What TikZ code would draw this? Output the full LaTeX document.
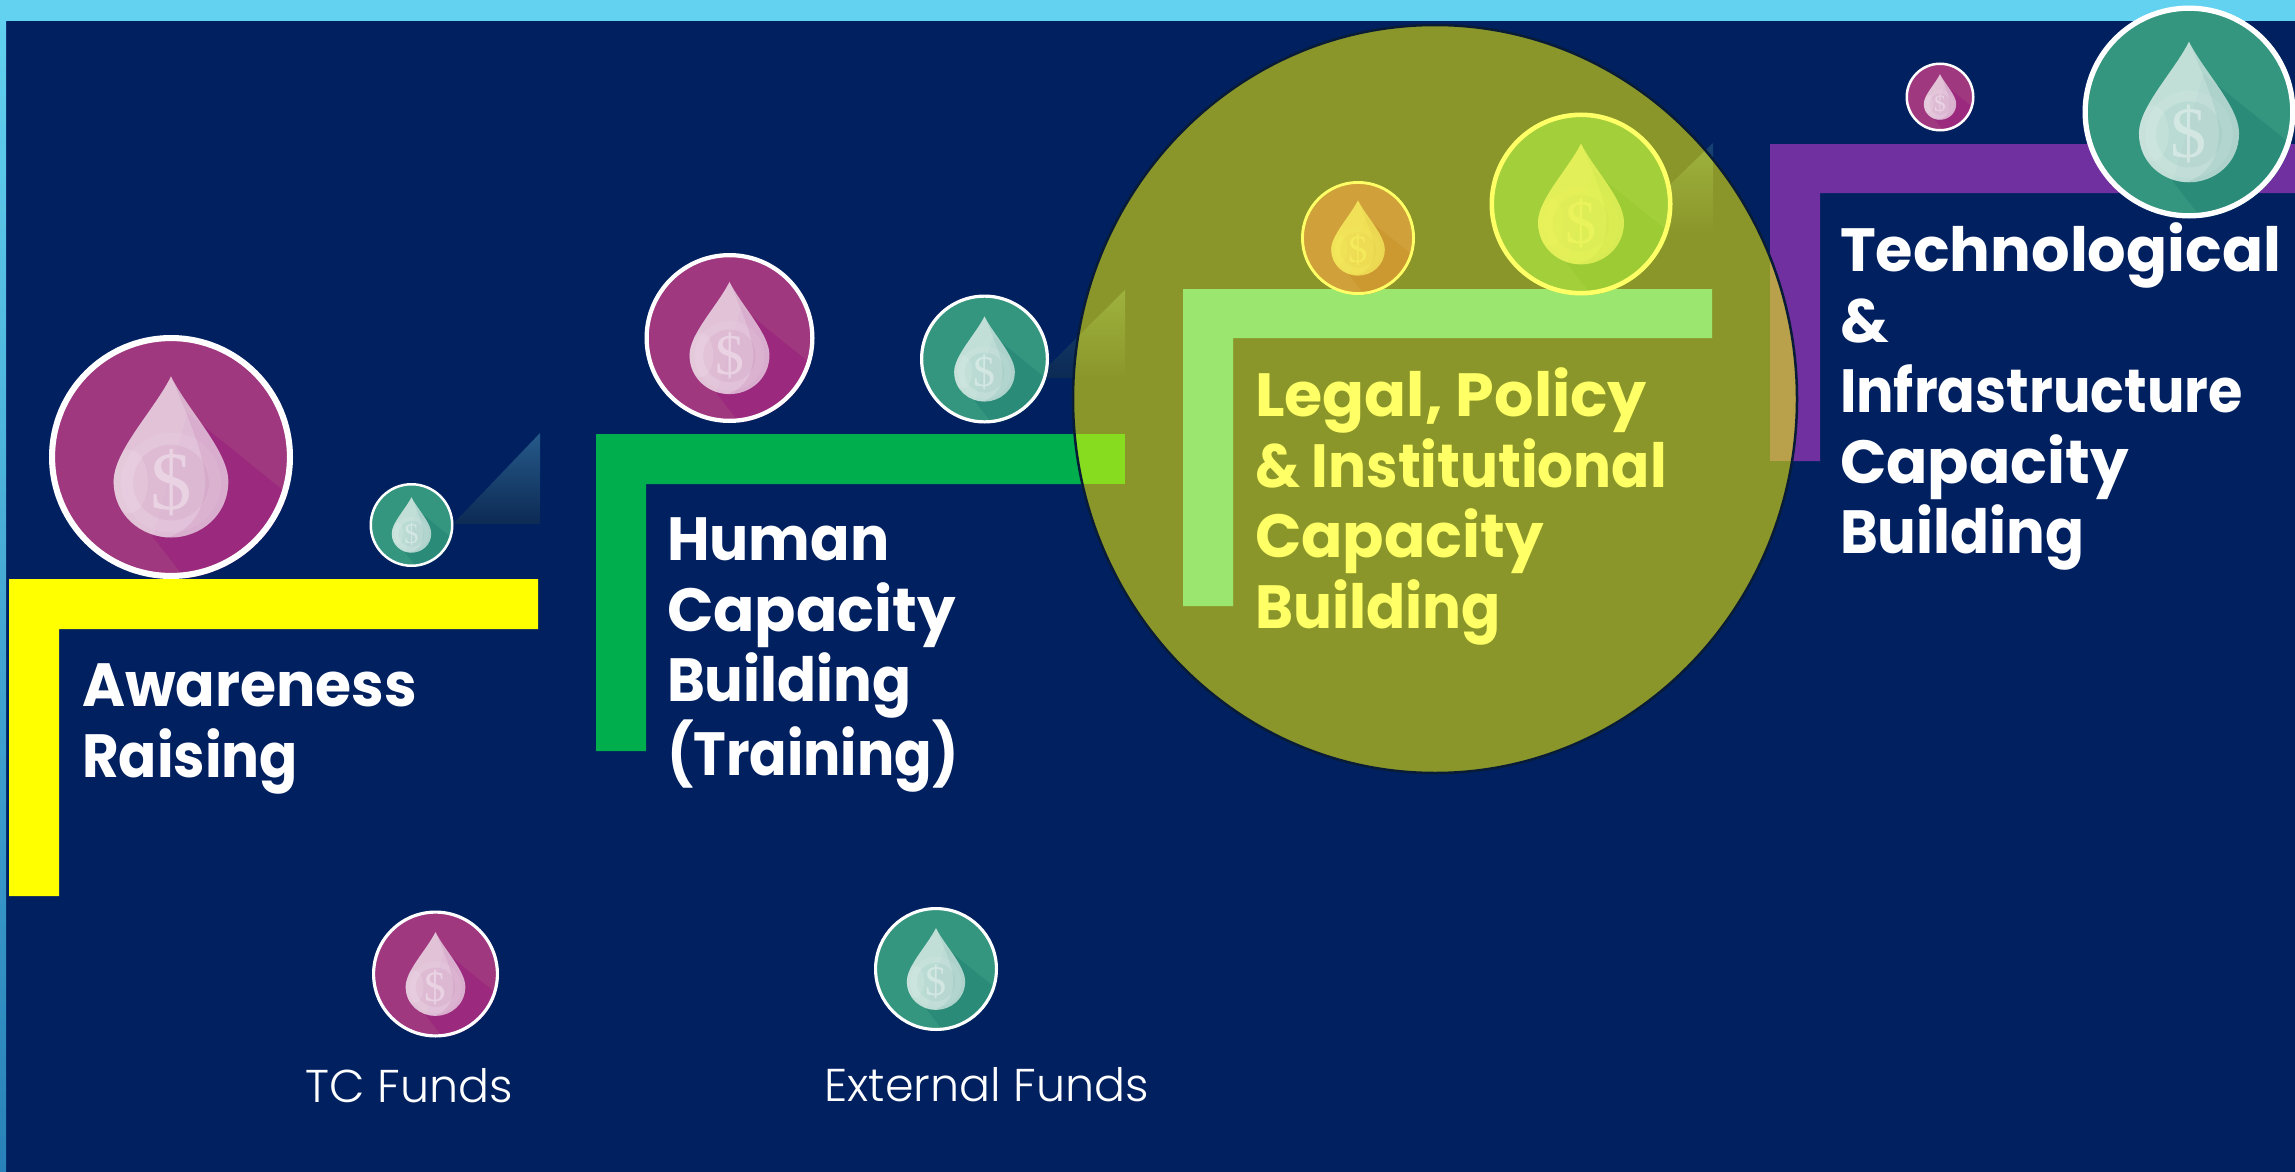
\documentclass[tikz,border=0pt]{standalone}
\usepackage{fontspec}
\usepackage{graphicx}
\setmainfont{Poppins}
\newfontfamily\labelfont{Poppins Bold}
\newfontfamily\legendfont{Poppins Light}
\newfontfamily\dollarfont{Liberation Serif}
\definecolor{bg}{RGB}{0,32,96}
\definecolor{topband}{RGB}{99,210,240}
\definecolor{sideband}{RGB}{40,130,185}
\definecolor{stepyellow}{RGB}{255,255,0}
\definecolor{olive}{RGB}{139,150,42}
\definecolor{olivelight}{RGB}{158,178,62}
\definecolor{hiyellow}{RGB}{255,255,102}
\definecolor{greenstep}{RGB}{0,174,77}
\definecolor{purplestep}{RGB}{112,48,160}
\definecolor{greenhi}{RGB}{136,220,32}
\definecolor{purplehi}{RGB}{185,160,74}
\definecolor{lightstep}{RGB}{155,230,110}
\definecolor{ringdark}{RGB}{8,28,56}
\definecolor{triA}{RGB}{38,90,138}
\definecolor{triB}{RGB}{12,42,84}
\definecolor{triC}{RGB}{22,66,116}
\definecolor{magA}{RGB}{160,56,127}\definecolor{magB}{RGB}{155,41,125}
\definecolor{tealA}{RGB}{53,150,127}\definecolor{tealB}{RGB}{42,139,120}
\definecolor{orgA}{RGB}{208,160,58}\definecolor{orgB}{RGB}{204,152,48}
\definecolor{limeA}{RGB}{163,207,59}\definecolor{limeB}{RGB}{157,203,52}
\newcommand{\sx}[2]{\scalebox{#1}[1]{#2}}
\tikzset{
  stepL/.style={fill=#1,draw=none},
  bigLabel/.style={anchor=north west,inner sep=0pt,outer sep=0pt,align=left,text=white,font=\labelfont\fontsize{61}{70.4}\selectfont},
  legendLabel/.style={anchor=base,inner sep=0pt,text=white,font=\legendfont\fontsize{46}{54}\selectfont},
  coinDisc/.style={circle,inner sep=0pt,outer sep=0pt},
}
% name, x, y, r, base, shade, ring, drop colour
\newcommand{\coin}[8]{%
  \pgfmathsetmacro{\cw}{max(2.5,0.05*#4)}%
  \pgfmathsetmacro{\cd}{2*#4-\cw}%
  \pgfmathsetmacro{\cf}{0.68*#4}%
  \node[coinDisc,fill=#5,minimum size=\cd pt,line width=0pt] (#1) at (#2,#3) {};
  \begin{scope}[shift={(#1.center)},x=#4pt,y=-#4pt]
    \begin{scope}
      \clip (0,0) circle (1);
      \fill[#6] (.135,-.36) -- (1.1,.42) -- (1.1,1.1) -- (.2,1.1) -- (-.15,.655) -- cycle;
    \end{scope}
    \begin{scope}
      \clip (0,-.66) .. controls (.14,-.38) and (.47,-.05) .. (.47,.2)
        .. controls (.47,.48) and (.24,.66) .. (0,.66)
        .. controls (-.24,.66) and (-.47,.48) .. (-.47,.2)
        .. controls (-.47,-.05) and (-.14,-.38) .. (0,-.66) -- cycle;
      \fill[#8,opacity=.62] (-1,-1) rectangle (1,1);
      \fill[#8,opacity=.2] (0,-.66) .. controls (.15,-.3) and (.28,0) .. (.28,.2)
        .. controls (.28,.5) and (.1,.7) .. (-.3,.7) -- (-.6,.7) -- (-.6,-.66) -- cycle;
      \fill[#8,opacity=.08] (0,.21) circle (.41);
      \fill[#5,opacity=.07] (0,.21) circle (.31);
      \fill[#8,opacity=.12] (-.34,.2) ellipse (.15 and .26);
    \end{scope}
  \end{scope}
  \node[inner sep=0pt,text=#8,text opacity=.38,font=\dollarfont\fontsize{\cf}{\cf}\selectfont] (#1-sign) at ([yshift=-.21*#4 pt]#1.center) {\$};
  \draw[#7,line width=\cw pt] (#1.center) circle ({#4-\cw/2});
}
\begin{document}
\begin{tikzpicture}[x=1pt,y=-1pt]
\useasboundingbox (0,0) rectangle (2295,1172);
\fill[bg] (0,0) rectangle (2295,1172);
\shade[top color=topband,bottom color=sideband] (0,0) rectangle (6,1172);
\fill[topband] (0,0) rectangle (2295,21);

% dark triangles
\shade[top color=triA,bottom color=triB] (540,433) -- (453,524) -- (540,524) -- cycle;
\shade[top color=triC,bottom color=triB] (1125,290) -- (1036,378) -- (1125,378) -- cycle;
\shade[top color=triC,bottom color=triB] (1713,143) -- (1620,233) -- (1713,233) -- cycle;

% steps
\fill[stepL=stepyellow] (9,579) -- (538,579) -- (538,629) -- (59,629) -- (59,896) -- (9,896) -- cycle;
\fill[stepL=greenstep] (596,434) -- (1125,434) -- (1125,484) -- (646,484) -- (646,751) -- (596,751) -- cycle;
\fill[stepL=purplestep] (1770,144) -- (2295,144) -- (2295,193) -- (1820,193) -- (1820,461) -- (1770,461) -- cycle;

% highlight
\fill[olive] (1435,399) ellipse (362 and 374);
\begin{scope}
  \clip (1435,399) ellipse (362 and 374);
  \shade[top color=olivelight,bottom color=olive] (1125,290) -- (1036,378) -- (1125,378) -- cycle;
  \shade[top color=olivelight,bottom color=olive] (1713,143) -- (1620,233) -- (1713,233) -- cycle;
  \fill[greenhi] (1000,434) rectangle (1125,484);
  \fill[purplehi] (1770,144) rectangle (1820,461);
\end{scope}
\draw[ringdark,line width=2.5pt] (1435,399) ellipse (362 and 374);
\fill[stepL=lightstep] (1183,289) -- (1712,289) -- (1712,338) -- (1233,338) -- (1233,606) -- (1183,606) -- cycle;

% coins
\coin{coinA}{171}{457}{122}{magA}{magB}{white}{white}
\coin{coinB}{411.5}{525}{42}{tealA}{tealB}{white}{white}
\coin{coinC}{729.5}{338}{85}{magA}{magB}{white}{white}
\coin{coinD}{984.5}{359}{64.5}{tealA}{tealB}{white}{white}
\coin{coinE}{1358}{238}{57}{orgA}{orgB}{hiyellow}{hiyellow}
\coin{coinF}{1581}{204}{91.5}{limeA}{limeB}{hiyellow}{hiyellow}
\coin{coinG}{1940}{97}{34.5}{magA}{magB}{white}{white}
\coin{coinH}{2189}{112}{106.5}{tealA}{tealB}{white}{white}
\coin{coinI}{435.5}{974}{63.5}{magA}{magB}{white}{white}
\coin{coinJ}{936}{969}{62}{tealA}{tealB}{white}{white}

% labels
\node[bigLabel] (lblA) at (82,664) {\sx{.958}{Awareness}\\\sx{.924}{Raising}};
\node[bigLabel] (lblB) at (667,518) {\sx{.955}{Human}\\\sx{1}{Capacity}\\\sx{.943}{Building}\\\sx{.907}{(Training)}};
\node[bigLabel,text=hiyellow] (lblC) at (1255,368) {\sx{1.015}{Legal, Policy}\\\sx{.924}{\& Institutional}\\\sx{1}{Capacity}\\\sx{.948}{Building}};
\node[bigLabel] (lblD) at (1840,223) {\sx{.993}{Technological}\\\&\\\sx{.913}{Infrastructure}\\\sx{1}{Capacity}\\\sx{.943}{Building}};
\node[legendLabel] (lblE) at (409.5,1102) {TC Funds};
\node[legendLabel] (lblF) at (987,1101) {External Funds};
\end{tikzpicture}
\end{document}
